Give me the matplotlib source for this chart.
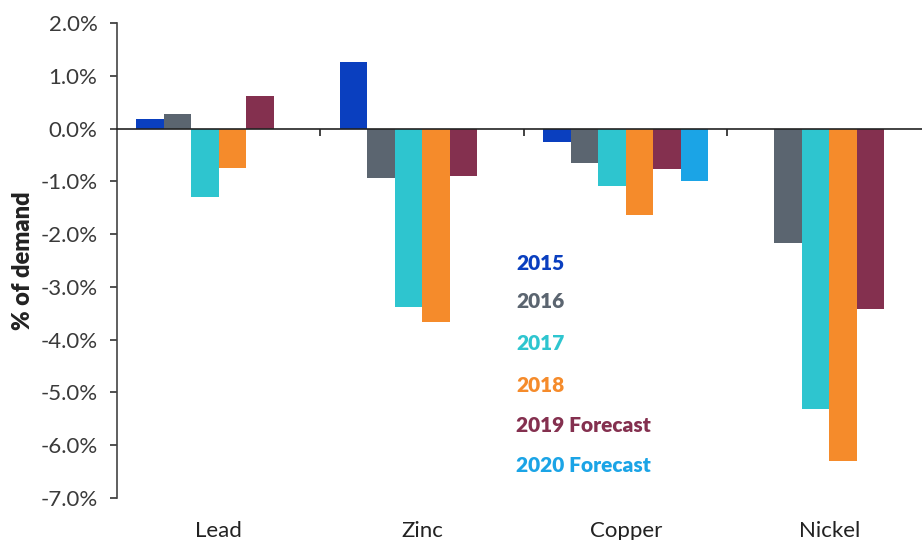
import numpy as np
import matplotlib.pyplot as plt
from matplotlib.ticker import FuncFormatter

metals = ['Lead', 'Zinc', 'Copper', 'Nickel']
years = ['2015', '2016', '2017', '2018', '2019 Forecast', '2020 Forecast']
colors = ['#0a3fbf', '#5b6570', '#2ec5cf', '#f58b2b', '#84304f', '#1ba4e6']

# % of demand, nan = no bar
values = [
    [0.18, 1.26, -0.25, np.nan],
    [0.27, -0.93, -0.65, -2.17],
    [-1.29, -3.38, -1.09, -5.31],
    [-0.74, -3.67, -1.63, -6.30],
    [0.61, -0.89, -0.76, -3.42],
    [np.nan, np.nan, -1.00, np.nan],
]

plt.rcParams['font.family'] = ['Lato', 'DejaVu Sans']

fig = plt.figure(figsize=(9.22, 5.4), dpi=100)
ax = fig.add_axes([0.1269, 0.0778, 0.8731, 0.8796])

x = np.arange(len(metals))
w = 0.135
for i, vals in enumerate(values):
    ax.bar(x - 2.5 * w + i * w, vals, width=w, color=colors[i], zorder=2)

ax.set_ylim(-7, 2)
ax.set_xlim(-0.5, 3.456)
ax.set_yticks(np.arange(-7, 2.5, 1))
ax.yaxis.set_major_formatter(FuncFormatter(lambda v, p: '%.1f%%' % v))
ax.tick_params(axis='y', labelsize=16, length=5, width=1.2, colors='#333333',
               labelcolor='#3a3a3a', pad=9)

ax.spines['top'].set_visible(False)
ax.spines['right'].set_visible(False)
ax.spines['left'].set_color('#444444')
ax.spines['left'].set_linewidth(1.2)
ax.spines['bottom'].set_position(('data', 0))
ax.spines['bottom'].set_color('#222222')
ax.spines['bottom'].set_linewidth(1.2)
ax.spines['bottom'].set_zorder(3)
ax.set_xticks([0.5, 1.5, 2.5])
ax.set_xticklabels([])
ax.tick_params(axis='x', length=5, width=1.2, colors='#222222')

for i, m in enumerate(metals):
    ax.text(i, -0.07, m, transform=ax.get_xaxis_transform(), ha='center',
            va='center', fontsize=16, color='#222222')

ax.set_ylabel('% of demand', fontsize=17, fontweight='heavy', color='#222222')
ax.yaxis.set_label_coords(-0.103, 0.5)

legend_y = [264, 302, 344, 385, 425, 466]
for name, c, yp in zip(years, colors, legend_y):
    fig.text(516 / 922, 1 - yp / 540, name, color=c, fontsize=15,
             fontweight='heavy', ha='left', va='center')

fig.savefig('out.png', dpi=100)
